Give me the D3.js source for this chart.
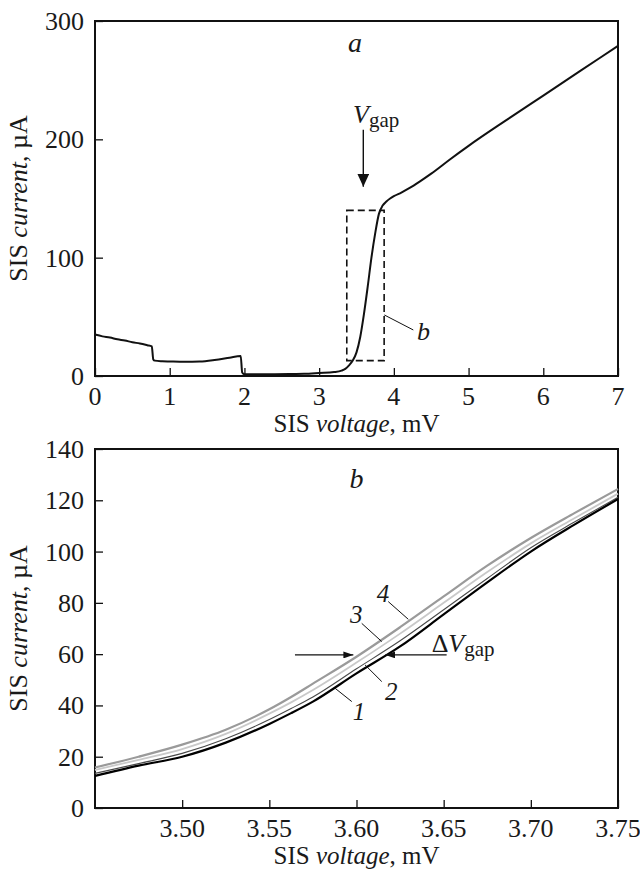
<!DOCTYPE html>
<html>
<head>
<meta charset="utf-8">
<script src="https://cdn.jsdelivr.net/npm/d3@7"></script>
<style>
  html, body { margin: 0; padding: 0; background: #fff; }
  svg text { font-family: "Liberation Serif", "DejaVu Serif", serif; fill: #1a1a1a; }
</style>
</head>
<body>
<svg id="chart" width="640" height="870"></svg>
<script>
// ---------- Panel a data ----------
const voltageA = [0, 0.1, 0.2, 0.3, 0.4, 0.5, 0.6, 0.7, 0.76, 0.78, 0.8, 0.9, 1.0, 1.2, 1.4, 1.6, 1.8, 1.95, 1.97, 2.0, 2.2, 2.4, 2.6, 2.8, 3.0, 3.2, 3.3, 3.35, 3.4, 3.45, 3.5, 3.55, 3.6, 3.65, 3.7, 3.75, 3.8, 3.85, 3.9, 3.95, 4.0, 4.1, 4.2, 4.35, 4.5, 4.75, 5.0, 5.5, 6.0, 6.5, 7.0];
const currentA = [35, 33.5, 32.5, 31, 30, 28.5, 27.5, 26, 25, 14, 13, 12.5, 12.3, 12, 12.2, 13.5, 15.5, 17, 3, 1.5, 1.5, 1.5, 1.6, 1.8, 2.5, 3.3, 4.5, 6, 9, 13, 20, 33, 52.5, 75.5, 100, 120.5, 137, 144, 147.5, 150, 152, 155, 158.5, 164.5, 171, 183, 194.5, 216, 237, 258, 279];
const ticksXA = [0, 1, 2, 3, 4, 5, 6, 7];
const ticksYA = [0, 100, 200, 300];
const zoomBox = { v0: 3.37, v1: 3.87, i0: 13, i1: 140 };

// ---------- Panel b data ----------
const voltageB = [3.45, 3.475, 3.50, 3.525, 3.55, 3.5625, 3.575, 3.60, 3.625, 3.65, 3.675, 3.70, 3.725, 3.75];
const current1 = [12.5, 16.5, 20, 25.5, 32.8, 37, 41.5, 52.5, 63, 75.5, 88, 100, 110.5, 120.5];
const current2 = [13.5, 17.3, 21.3, 27, 34.5, 38.8, 43.3, 54.3, 65.2, 77.3, 89.5, 101.5, 111.5, 121.2];
const current3 = [14.8, 18.8, 23, 28.9, 36.8, 41.2, 46, 56.7, 68, 80, 92, 103.2, 113, 122.6];
const current4 = [15.8, 20, 24.7, 30.5, 38.5, 43.3, 48.5, 59, 70.5, 82.5, 94.5, 105.3, 115, 124.4];
const seriesNames = ["1", "2", "3", "4"];
const ticksXB = [3.50, 3.55, 3.60, 3.65, 3.70, 3.75];
const ticksYB = [0, 20, 40, 60, 80, 100, 120, 140];

const svg = d3.select("#chart");
const FS = 26;

// arrow markers
const defs = svg.append("defs");
defs.append("marker").attr("id", "bigArrow").attr("markerUnits", "userSpaceOnUse")
  .attr("viewBox", "0 -6 13 12").attr("refX", 13).attr("refY", 0)
  .attr("markerWidth", 13).attr("markerHeight", 12).attr("orient", "auto")
  .append("path").attr("d", "M0,-6L13,0L0,6Z").attr("fill", "#111");
defs.append("marker").attr("id", "smallArrow").attr("markerUnits", "userSpaceOnUse")
  .attr("viewBox", "0 -3.5 10 7").attr("refX", 10).attr("refY", 0)
  .attr("markerWidth", 10).attr("markerHeight", 7).attr("orient", "auto")
  .append("path").attr("d", "M0,-3.5L10,0L0,3.5Z").attr("fill", "#111");

function framePanel(x, y, xTicks, yTicks, xFmt, yFmt) {
  const [x0, x1] = x.range();
  const [y0, y1] = y.range();
  const g = svg.append("g");
  // ticks inward
  const xAxis = d3.axisTop(x).tickValues(xTicks).tickSize(8).tickFormat("");
  g.append("g").attr("transform", `translate(0,${y0})`).call(xAxis)
    .call(s => s.select(".domain").remove())
    .call(s => s.selectAll("line").attr("stroke", "#111").attr("stroke-width", 1.3));
  const yAxis = d3.axisRight(y).tickValues(yTicks).tickSize(8).tickFormat("");
  g.append("g").attr("transform", `translate(${x0},0)`).call(yAxis)
    .call(s => s.select(".domain").remove())
    .call(s => s.selectAll("line").attr("stroke", "#111").attr("stroke-width", 1.3));
  // labels
  g.selectAll(".xl").data(xTicks).join("text")
    .attr("x", d => x(d)).attr("y", y0 + 28.5)
    .attr("text-anchor", "middle").attr("font-size", FS).text(xFmt);
  g.selectAll(".yl").data(yTicks).join("text")
    .attr("x", x0 - 11).attr("y", d => y(d) + 9)
    .attr("text-anchor", "end").attr("font-size", FS).text(yFmt);
  // frame
  g.append("rect").attr("x", x0).attr("y", y1).attr("width", x1 - x0).attr("height", y0 - y1)
    .attr("fill", "none").attr("stroke", "#111").attr("stroke-width", 2);
  // titles
  const xt = g.append("text").attr("x", (x0 + x1) / 2).attr("y", y0 + 56)
    .attr("text-anchor", "middle").attr("font-size", FS - 1);
  xt.append("tspan").text("SIS ");
  xt.append("tspan").attr("font-style", "italic").text("voltage");
  xt.append("tspan").text(", mV");
  const cy = (y0 + y1) / 2;
  const yt = g.append("text").attr("transform", `translate(27,${cy}) rotate(-90)`)
    .attr("text-anchor", "middle").attr("font-size", FS);
  yt.append("tspan").text("SIS ");
  yt.append("tspan").attr("font-style", "italic").text("current");
  yt.append("tspan").text(", \u00B5A");
  return g;
}

// ================= Panel a =================
const xA = d3.scaleLinear().domain([0, 7]).range([95, 618]);
const yA = d3.scaleLinear().domain([0, 300]).range([376, 21]);
framePanel(xA, yA, ticksXA, ticksYA, d => d3.format("d")(d), d => d3.format("d")(d));

const lineA = d3.line().x((d, i) => xA(voltageA[i])).y((d, i) => yA(currentA[i])).curve(d3.curveMonotoneX);
svg.append("path").datum(currentA).attr("d", lineA)
  .attr("fill", "none").attr("stroke", "#111").attr("stroke-width", 2).attr("stroke-linejoin", "round");

// dashed zoom box
svg.append("rect")
  .attr("x", xA(zoomBox.v0)).attr("y", yA(zoomBox.i1))
  .attr("width", xA(zoomBox.v1) - xA(zoomBox.v0)).attr("height", yA(zoomBox.i0) - yA(zoomBox.i1))
  .attr("fill", "none").attr("stroke", "#111").attr("stroke-width", 1.6).attr("stroke-dasharray", "7,4");
// leader to b
svg.append("line").attr("x1", xA(3.872)).attr("y1", yA(51.6)).attr("x2", xA(4.26)).attr("y2", yA(38.9))
  .attr("stroke", "#111").attr("stroke-width", 1);
svg.append("text").attr("x", xA(4.31)).attr("y", yA(30.4)).attr("font-size", FS).attr("font-style", "italic").text("b");
// panel letter a
svg.append("text").attr("x", xA(3.48)).attr("y", yA(274)).attr("text-anchor", "middle")
  .attr("font-size", FS + 2).attr("font-style", "italic").text("a");
// V_gap label + arrow
const vg = svg.append("text").attr("x", xA(3.453)).attr("y", yA(214)).attr("font-size", FS);
vg.append("tspan").attr("font-style", "italic").text("V");
vg.append("tspan").attr("font-size", 21).attr("dy", 4).text("gap");
svg.append("line").attr("x1", xA(3.591)).attr("y1", yA(208)).attr("x2", xA(3.591)).attr("y2", yA(160))
  .attr("stroke", "#111").attr("stroke-width", 1.4).attr("marker-end", "url(#bigArrow)");

// ================= Panel b =================
const xB = d3.scaleLinear().domain([3.45, 3.75]).range([95, 618]);
const yB = d3.scaleLinear().domain([0, 140]).range([808, 449]);
framePanel(xB, yB, ticksXB, ticksYB, d => d3.format(".2f")(d), d => d3.format("d")(d));

const seriesB = [current4, current3, current2, current1];
const colorsB = ["#9a9a9a", "#c9c9c9", "#4a4a4a", "#000000"];
const widthsB = [2.2, 1.8, 1.1, 2.2];
const lineB = d3.line().x((d, i) => xB(voltageB[i])).y(d => yB(d)).curve(d3.curveMonotoneX);
svg.append("g").selectAll("path").data(seriesB).join("path")
  .attr("d", lineB).attr("fill", "none")
  .attr("stroke", (d, i) => colorsB[i]).attr("stroke-width", (d, i) => widthsB[i]);

// panel letter b
svg.append("text").attr("x", xB(3.60)).attr("y", yB(124.8)).attr("text-anchor", "middle")
  .attr("font-size", FS + 2).attr("font-style", "italic").text("b");

// curve labels with leader lines
const labelPos = [[3.5978, 34.3], [3.6164, 42.1], [3.5963, 72], [3.6116, 80.5]];
const leaderFrom = [[3.5877, 46.7], [3.6049, 55.8], [3.603, 72], [3.6182, 80.5]];
const leaderTo = [[3.5973, 41.5], [3.6145, 49.3], [3.6145, 64.9], [3.6297, 73.6]];
seriesNames.forEach((name, i) => {
  svg.append("line")
    .attr("x1", xB(leaderFrom[i][0])).attr("y1", yB(leaderFrom[i][1]))
    .attr("x2", xB(leaderTo[i][0])).attr("y2", yB(leaderTo[i][1]))
    .attr("stroke", "#111").attr("stroke-width", 1);
  svg.append("text").attr("x", xB(labelPos[i][0])).attr("y", yB(labelPos[i][1]))
    .attr("font-size", FS - 1).attr("font-style", "italic").text(name);
});

// ΔV_gap arrows
svg.append("line").attr("x1", xB(3.5647)).attr("y1", yB(59.7)).attr("x2", xB(3.5982)).attr("y2", yB(59.7))
  .attr("stroke", "#111").attr("stroke-width", 1.2).attr("marker-end", "url(#smallArrow)");
svg.append("line").attr("x1", xB(3.6517)).attr("y1", yB(59.7)).attr("x2", xB(3.6166)).attr("y2", yB(59.7))
  .attr("stroke", "#111").attr("stroke-width", 1.2).attr("marker-end", "url(#smallArrow)");
const dv = svg.append("text").attr("x", xB(3.6431)).attr("y", yB(61)).attr("font-size", FS);
dv.append("tspan").text("\u0394");
dv.append("tspan").attr("font-style", "italic").text("V");
dv.append("tspan").attr("font-size", 21).attr("dy", 4).text("gap");
</script>
</body>
</html>
